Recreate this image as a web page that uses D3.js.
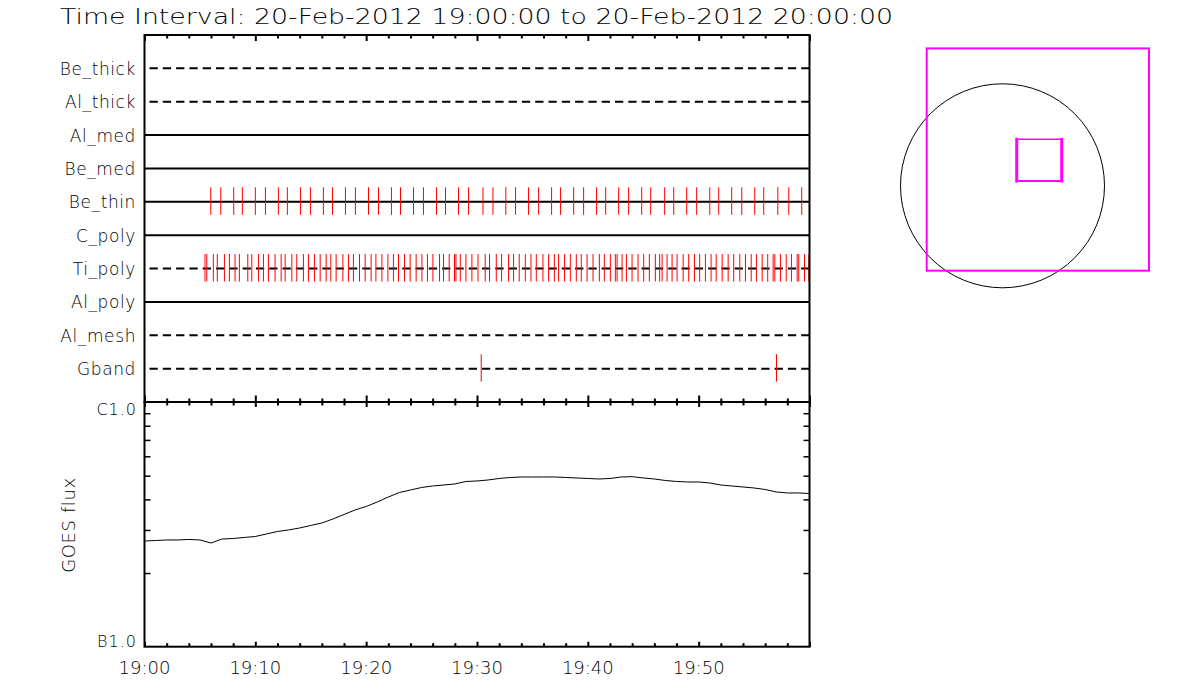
<!DOCTYPE html>
<html><head><meta charset="utf-8">
<script src="https://cdn.jsdelivr.net/npm/d3@7"></script>
<style>body{margin:0;background:#fff;}svg{display:block;}</style>
</head><body><svg id="c" width="1200" height="700"></svg>
<script>
// ---------------- data ----------------
const titleText = "Time Interval: 20-Feb-2012 19:00:00 to 20-Feb-2012 20:00:00";
const filters = ["Be_thick","Al_thick","Al_med","Be_med","Be_thin","C_poly","Ti_poly","Al_poly","Al_mesh","Gband"];
const filterDashed = [true,true,false,false,false,false,true,false,true,true];
// exposure times, minutes after 19:00
const beThinTimes = [5.98,6.88,8.05,8.83,10.00,10.91,12.08,12.89,14.07,14.97,16.14,16.96,18.13,19.03,20.21,21.11,22.28,23.10,24.27,25.17,26.35,27.16,28.33,29.24,30.54,31.44,32.60,33.48,34.65,35.56,36.73,37.54,38.72,39.62,40.79,41.61,42.78,43.68,44.86,45.67,46.93,47.75,48.92,49.82,51.00,51.81,52.98,53.89,55.06,55.87,57.14,58.13,59.30];
const tiPolyTimes = [5.46,5.62,6.21,6.57,7.21,7.66,8.17,8.56,9.32,9.68,10.28,10.73,11.18,11.78,12.33,12.69,13.29,13.74,14.34,14.79,15.33,15.85,16.39,16.81,17.29,17.90,18.40,18.85,19.40,19.91,20.45,20.88,21.42,21.96,22.46,22.92,23.46,23.97,24.51,25.03,25.53,26.02,26.62,26.98,27.49,27.97,28.10,28.49,29.00,29.54,30.09,30.74,31.13,31.74,32.22,32.85,33.30,33.81,34.36,34.87,35.35,35.95,36.46,36.98,37.36,37.90,38.42,38.96,39.41,39.93,40.47,41.04,41.49,42.03,42.48,42.64,43.09,43.48,43.99,44.53,45.04,45.55,46.09,46.48,46.70,47.15,47.60,48.05,48.60,49.10,49.62,50.09,50.61,51.12,51.58,52.12,52.66,53.16,53.71,54.22,54.74,55.21,55.73,56.23,56.72,56.87,57.38,57.90,58.37,58.89,59.03,59.55,59.94];
const gbandTimes = [30.38,57.02];
const goesMinutes = [0,1,2,3,4,5,6,7,8,9,10,11,12,13,14,15,16,17,18,19,20,21,22,23,24,25,26,27,28,29,30,31,32,33,34,35,36,37,38,39,40,41,42,43,44,45,46,47,48,49,50,51,52,53,54,55,56,57,58,59,60];
const goesFlux = [2.704e-7,2.716e-7,2.730e-7,2.730e-7,2.743e-7,2.730e-7,2.653e-7,2.755e-7,2.768e-7,2.795e-7,2.821e-7,2.888e-7,2.957e-7,2.999e-7,3.056e-7,3.129e-7,3.203e-7,3.326e-7,3.470e-7,3.620e-7,3.741e-7,3.903e-7,4.091e-7,4.268e-7,4.369e-7,4.473e-7,4.537e-7,4.580e-7,4.624e-7,4.734e-7,4.756e-7,4.801e-7,4.869e-7,4.915e-7,4.938e-7,4.938e-7,4.938e-7,4.938e-7,4.915e-7,4.892e-7,4.869e-7,4.846e-7,4.869e-7,4.938e-7,4.952e-7,4.892e-7,4.846e-7,4.778e-7,4.734e-7,4.711e-7,4.711e-7,4.667e-7,4.580e-7,4.537e-7,4.495e-7,4.452e-7,4.389e-7,4.289e-7,4.248e-7,4.248e-7,4.228e-7];
const xMajorTicks = [0,10,20,30,40,50,60];
const xTickLabels = ["19:00","19:10","19:20","19:30","19:40","19:50"];
const goesTickValues = [1e-7,1e-6];
const goesTickLabels = ["B1.0","C1.0"];
const goesMinorTicks = [2e-7,3e-7,4e-7,5e-7,6e-7,7e-7,8e-7,9e-7];
// right-hand map (arcsec, solar centre at 0,0)
const solarRadius = 975;
const fovBox = {cx:338, cy:251, w:2125, h:2125};
const roiBox = {cx:351, cy:245, w:430, h:399};

// ---------------- drawing ----------------
const svg = d3.select("#c");
const FONT = "'DejaVu Sans', sans-serif";
const L = 144.5, R = 809.5, T = 35, MID = 402, B = 646.7;

const x = d3.scaleLinear().domain([0,60]).range([L,R]);
const rowY = d3.scaleLinear().domain([0,11]).range([T,MID]);
const yG = d3.scaleLog().domain([1e-7,1e-6]).range([B,MID]);
const minorMin = d3.range(0,61,2).filter(v => v % 10 !== 0);

svg.append("text").attr("x",60).attr("y",24).attr("textLength",833).attr("lengthAdjust","spacingAndGlyphs")
  .style("font-family",FONT).style("font-weight",200).style("font-size","22px").text(titleText);

// filter rows
filters.forEach((f,i) => {
  const yy = rowY(i+1);
  svg.append("line").attr("x1",L).attr("x2",R).attr("y1",yy).attr("y2",yy)
    .attr("stroke","#000").attr("stroke-width",2)
    .attr("stroke-dasharray", filterDashed[i] ? "8.3,5" : null)
    .attr("stroke-dashoffset", filterDashed[i] ? 8.3 : null);
  svg.append("text").attr("x",136).attr("y",yy+6.5).attr("text-anchor","end")
    .style("font-family",FONT).style("font-weight",200).style("font-size","17px").style("letter-spacing","0.6px").text(f);
});

const exposures = [["Be_thin",beThinTimes],["Ti_poly",tiPolyTimes],["Gband",gbandTimes]];
exposures.forEach(([name,times]) => {
  const yy = rowY(filters.indexOf(name)+1);
  svg.append("g").selectAll("line").data(times).join("line")
    .attr("x1",d=>x(d)).attr("x2",d=>x(d)).attr("y1",yy-14.5).attr("y2",yy+13)
    .attr("stroke","#ff0000").attr("stroke-width",1);
});

// frames
svg.append("rect").attr("x",L).attr("y",T).attr("width",R-L).attr("height",MID-T).attr("fill","none").attr("stroke","#000").attr("stroke-width",2);
svg.append("rect").attr("x",L).attr("y",MID).attr("width",R-L).attr("height",B-MID).attr("fill","none").attr("stroke","#000").attr("stroke-width",2);

function timeAxis(gen, yPos, major, minor){
  const g1 = svg.append("g").attr("transform",`translate(0,${yPos})`)
    .call(gen(x).tickValues(xMajorTicks).tickSize(major).tickFormat(""));
  const g2 = svg.append("g").attr("transform",`translate(0,${yPos})`)
    .call(gen(x).tickValues(minorMin).tickSize(minor).tickFormat(""));
  [g1,g2].forEach(g=>{g.select(".domain").remove(); g.selectAll("line").attr("stroke","#000").attr("stroke-width",2);});
}
timeAxis(d3.axisBottom, T, 6, 3.5);
timeAxis(d3.axisTop, MID, 6.5, 3.5);
timeAxis(d3.axisBottom, MID, 5, 3.5);
timeAxis(d3.axisBottom, B, -5, -3.5);

// time labels
svg.append("g").selectAll("text").data(xTickLabels).join("text")
  .attr("x",(d,i)=>x(xMajorTicks[i])).attr("y",674).attr("text-anchor","middle")
  .style("font-family",FONT).style("font-weight",200).style("font-size","18px").text(d=>d);

// GOES y axes
const gl = svg.append("g").attr("transform",`translate(${L},0)`).call(d3.axisRight(yG).tickValues(goesMinorTicks).tickSize(6).tickFormat(""));
const gr = svg.append("g").attr("transform",`translate(${R},0)`).call(d3.axisLeft(yG).tickValues(goesMinorTicks).tickSize(6).tickFormat(""));
[gl,gr].forEach(g=>{g.select(".domain").remove(); g.selectAll("line").attr("stroke","#000").attr("stroke-width",1.5);});
svg.append("g").selectAll("text").data(goesTickLabels).join("text")
  .attr("x",137).attr("y",(d,i)=> i===0 ? yG(goesTickValues[i]) : yG(goesTickValues[i])+12.5)
  .attr("text-anchor","end").style("font-family",FONT).style("font-weight",200).style("font-size","16px").style("letter-spacing","1px").text(d=>d);
svg.append("text").attr("transform",`translate(75,525) rotate(-90)`).attr("text-anchor","middle")
  .style("font-family",FONT).style("font-weight",200).style("font-size","18px").style("letter-spacing","0.6px").text("GOES flux");

// GOES curve
const goesData = goesMinutes.map((m,i)=>({m, f:goesFlux[i]}));
svg.append("path").datum(goesData).attr("fill","none").attr("stroke","#000").attr("stroke-width",1)
  .attr("d", d3.line().x(d=>x(d.m)).y(d=>yG(d.f)));

// map
const pxPerArc = 102/solarRadius;
const mx = d3.scaleLinear().domain([0,1]).range([1002.5,1002.5+pxPerArc]);
const my = d3.scaleLinear().domain([0,1]).range([185.8,185.8-pxPerArc]);
svg.append("circle").attr("cx",mx(0)).attr("cy",my(0)).attr("r",mx(solarRadius)-mx(0)).attr("fill","none").attr("stroke","#000").attr("stroke-width",1);
svg.append("rect").attr("x",mx(fovBox.cx-fovBox.w/2)).attr("y",my(fovBox.cy+fovBox.h/2))
  .attr("width",mx(fovBox.w)-mx(0)).attr("height",mx(fovBox.h)-mx(0)).attr("fill","none").attr("stroke","#ff00ff").attr("stroke-width",2);
const rx0 = mx(roiBox.cx-roiBox.w/2), rx1 = mx(roiBox.cx+roiBox.w/2), ry0 = my(roiBox.cy+roiBox.h/2), ry1 = my(roiBox.cy-roiBox.h/2);
const roiSides = [[rx0,ry0,rx0,ry1,3],[rx1,ry0,rx1,ry1,3],[rx0,ry0,rx1,ry0,1.5],[rx0,ry1,rx1,ry1,2]];
svg.append("g").selectAll("line").data(roiSides).join("line")
  .attr("x1",d=>d[0]).attr("y1",d=>d[1]).attr("x2",d=>d[2]).attr("y2",d=>d[3])
  .attr("stroke","#ff00ff").attr("stroke-width",d=>d[4]).attr("stroke-linecap","square");
</script></body></html>
